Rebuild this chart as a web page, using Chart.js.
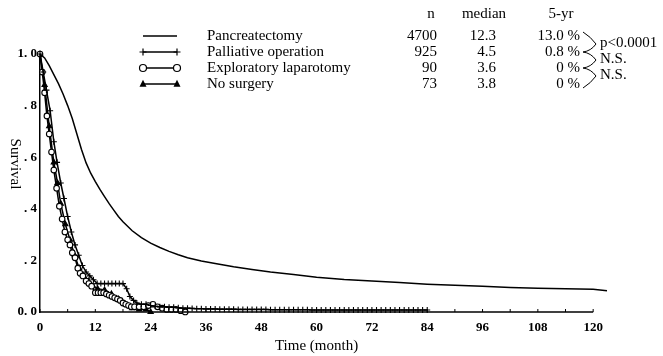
<!DOCTYPE html>
<html>
<head>
<meta charset="utf-8">
<script src="https://cdn.jsdelivr.net/npm/chart.js@4.4.1/dist/chart.umd.min.js"></script>
<style>
html, body { margin: 0; padding: 0; background: #fff; }
</style>
</head>
<body>
<canvas id="survivalChart" width="663" height="356"></canvas>
<script>
// survival curves (time in months, survival fraction)
const pancT = [0,1,2,3,4,5,6,7,8,9,10,11,12,13,14,15,16,17,18,20,22,24,26,28,30,32,35,38,42,46,50,55,60,66,72,78,84,90,96,102,108,114,120,123];
const pancS = [1.0,0.985,0.955,0.92,0.885,0.845,0.8,0.75,0.69,0.63,0.578,0.538,0.505,0.475,0.447,0.42,0.395,0.37,0.35,0.315,0.288,0.267,0.25,0.235,0.222,0.21,0.198,0.188,0.175,0.165,0.155,0.145,0.135,0.126,0.12,0.114,0.108,0.104,0.1,0.095,0.092,0.09,0.088,0.082];

const palT = [0,0.7,1.4,2.2,3,3.7,4.5,5.2,6,6.8,7.6,8.4,9.2,10,10.8,11.6,12.4,13.2,14,14.8,15.6,16.4,17.2,18,18.8,19.5,20.3,21,22,23,24,
  25,26,27,28,29,30,31,32,33,34,35,36,37,38,39,40,41,42,43,44,45,46,47,48,49,50,51,52,53,54,
  55,56,57,58,59,60,61,62,63,64,65,66,67,68,69,70,71,72,73,74,75,76,77,78,79,80,81,82,83,84];
const palS = [1.0,0.93,0.86,0.78,0.66,0.58,0.50,0.44,0.37,0.31,0.26,0.22,0.18,0.155,0.14,0.125,0.11,0.11,0.11,0.11,0.11,0.11,0.11,0.11,0.09,0.06,0.045,0.035,0.03,0.03,0.025,
  0.022,0.02,0.02,0.018,0.018,0.016,0.015,0.015,0.014,0.013,0.013,0.012,0.012,0.012,0.011,0.011,0.011,0.011,0.01,0.01,0.01,0.01,0.01,0.01,0.01,0.009,0.009,0.009,0.009,0.009,
  0.009,0.009,0.009,0.009,0.008,0.008,0.008,0.008,0.008,0.008,0.008,0.008,0.008,0.008,0.008,0.008,0.008,0.008,0.008,0.008,0.008,0.008,0.008,0.008,0.008,0.008,0.008,0.008,0.008,0.008];

const expT = [0,0.5,1,1.5,2,2.5,3,3.6,4.2,4.8,5.4,6,6.5,7,7.6,8.2,8.7,9.3,10,10.6,11.2,12,12.6,13.2,13.8,14.4,15,15.6,16.2,16.8,17.4,18,18.6,19.2,19.8,20.5,21.5,22.5,23.5,24.5,25.5,26.5,27.5,28.5,29.5,30.5,31.5];
const expS = [1.0,0.93,0.85,0.76,0.69,0.62,0.55,0.48,0.41,0.36,0.31,0.28,0.26,0.23,0.21,0.17,0.15,0.14,0.12,0.11,0.10,0.075,0.075,0.075,0.075,0.07,0.065,0.06,0.055,0.05,0.045,0.035,0.03,0.025,0.02,0.02,0.02,0.02,0.025,0.03,0.02,0.015,0.01,0.01,0.01,0.005,0.0];

const nsT = [0,1,2,3,3.8,4.5,5.5,6.5,7.5,8.5,9.5,10.5,11.5,12.5,14,15.5,17,18.5,20,21.5,23,24];
const nsS = [1.0,0.88,0.72,0.58,0.5,0.42,0.34,0.28,0.22,0.17,0.14,0.12,0.10,0.09,0.085,0.07,0.05,0.03,0.015,0.01,0.01,0.0];

// table next to the legend
const groupNames = ['Pancreatectomy', 'Palliative operation', 'Exploratory laparotomy', 'No surgery'];
const groupN = ['4700', '925', '90', '73'];
const groupMedian = ['12.3', '4.5', '3.6', '3.8'];
const group5yr = ['13.0 %', '0.8 %', '0 %', '0 %'];
const groupMarker = ['none', 'cross', 'circle', 'triangle'];
const pLabels = ['p<0.0001', 'N.S.', 'N.S.'];

const xTicks = [0, 12, 24, 36, 48, 60, 72, 84, 96, 108, 120];
const yTickLabels = ['0. 0', '. 2', '. 4', '. 6', '. 8', '1. 0'];

const serif = '"Liberation Serif", "Times New Roman", serif';

function toPoints(t, s) {
  return t.map((x, i) => ({ x: x, y: s[i] }));
}

function drawMark(ctx, style, x, y, r) {
  ctx.save();
  ctx.strokeStyle = '#000';
  ctx.lineWidth = 1.2;
  ctx.beginPath();
  if (style === 'circle') {
    ctx.arc(x, y, r, 0, Math.PI * 2);
    ctx.fillStyle = '#fff';
    ctx.fill();
    ctx.stroke();
  } else if (style === 'triangle') {
    ctx.moveTo(x, y - r * 1.2);
    ctx.lineTo(x + r, y + r * 0.8);
    ctx.lineTo(x - r, y + r * 0.8);
    ctx.closePath();
    ctx.fillStyle = '#000';
    ctx.fill();
  } else if (style === 'cross') {
    ctx.moveTo(x, y - r);
    ctx.lineTo(x, y + r);
    ctx.moveTo(x - r, y);
    ctx.lineTo(x + r, y);
    ctx.stroke();
  }
  ctx.restore();
}

// legend, table, braces, axis titles and the time axis line (which stops at 120)
const annotations = {
  id: 'annotations',
  afterDraw(chart) {
    const ctx = chart.ctx;
    const rowY = [36, 52, 68, 84];
    ctx.save();
    ctx.fillStyle = '#000';
    ctx.strokeStyle = '#000';
    ctx.font = '15px ' + serif;
    ctx.textBaseline = 'middle';

    // header
    ctx.textAlign = 'center';
    ctx.fillText('n', 431, 14);
    ctx.fillText('median', 484, 14);
    ctx.fillText('5-yr', 561, 14);

    for (let i = 0; i < groupNames.length; i++) {
      const y = rowY[i];
      ctx.lineWidth = 1.3;
      ctx.beginPath();
      ctx.moveTo(143, y);
      ctx.lineTo(177, y);
      ctx.stroke();
      if (groupMarker[i] !== 'none') {
        drawMark(ctx, groupMarker[i], 143, y, 3.5);
        drawMark(ctx, groupMarker[i], 177, y, 3.5);
      }
      ctx.textAlign = 'left';
      ctx.fillText(groupNames[i], 207, y);
      ctx.textAlign = 'right';
      ctx.fillText(groupN[i], 437, y);
      ctx.fillText(groupMedian[i], 496, y);
      ctx.fillText(group5yr[i], 580, y);
    }

    // zig-zag braces between neighbouring rows
    ctx.lineWidth = 1;
    ctx.beginPath();
    ctx.moveTo(583, rowY[0] - 4);
    for (let i = 0; i < pLabels.length; i++) {
      const mid = (rowY[i] + rowY[i + 1]) / 2;
      ctx.quadraticCurveTo(591, rowY[i] + 1, 596, mid);
      ctx.quadraticCurveTo(591, rowY[i + 1] - 1, 583, rowY[i + 1] + (i === pLabels.length - 1 ? 4 : 0));
    }
    ctx.stroke();
    ctx.textAlign = 'left';
    for (let i = 0; i < pLabels.length; i++) {
      const mid = (rowY[i] + rowY[i + 1]) / 2;
      ctx.fillText(pLabels[i], 600, mid - 1);
    }

    // y title, reading downwards
    ctx.save();
    ctx.translate(15, 164);
    ctx.rotate(Math.PI / 2);
    ctx.textAlign = 'center';
    ctx.fillText('Survival', 0, 0);
    ctx.restore();

    // time axis line from 0 to 120 with small inward ticks, and its title
    const xs = chart.scales.x;
    const yBase = chart.chartArea.bottom;
    const x0 = xs.getPixelForValue(0);
    const x120 = xs.getPixelForValue(120);
    ctx.lineWidth = 1.5;
    ctx.beginPath();
    ctx.moveTo(x0 - 1, yBase);
    ctx.lineTo(x120, yBase);
    ctx.stroke();
    ctx.lineWidth = 1;
    ctx.beginPath();
    for (let v = 0; v <= 120; v += 6) {
      const px = xs.getPixelForValue(v);
      ctx.moveTo(px, yBase);
      ctx.lineTo(px, yBase - 3);
    }
    ctx.stroke();
    ctx.textAlign = 'center';
    ctx.fillText('Time (month)', (x0 + x120) / 2, 346);
    ctx.restore();
  }
};

function curve(label, t, s, style, radius, extra) {
  return Object.assign({
    label: label,
    data: toPoints(t, s),
    showLine: true,
    borderColor: '#000',
    borderWidth: 1.5,
    backgroundColor: '#fff',
    pointStyle: style,
    pointRadius: radius,
    pointBorderWidth: 1.1,
    pointBorderColor: '#000',
    pointBackgroundColor: '#fff',
    tension: 0,
    clip: false
  }, extra || {});
}

const ctx = document.getElementById('survivalChart').getContext('2d');
const survivalChart = new Chart(ctx, {
  type: 'scatter',
  data: {
    datasets: [
      curve('Pancreatectomy', pancT, pancS, 'circle', 0),
      curve('Palliative operation', palT, palS, 'cross', 3),
      curve('Exploratory laparotomy', expT, expS, 'circle', 2.8),
      curve('No surgery', nsT, nsS, 'triangle', 3, { pointBackgroundColor: '#000' })
    ]
  },
  options: {
    responsive: false,
    animation: false,
    devicePixelRatio: 1,
    layout: { padding: { left: 0, right: 56, top: 54, bottom: 0 } },
    plugins: {
      legend: { display: false },
      tooltip: { enabled: false }
    },
    scales: {
      x: {
        type: 'linear',
        min: 0,
        max: 123,
        afterFit(scale) { scale.height = 44; },
        afterBuildTicks(scale) { scale.ticks = xTicks.map(v => ({ value: v })); },
        ticks: {
          color: '#000',
          padding: 8,
          maxRotation: 0,
          font: { family: serif, size: 13, weight: 'bold' }
        },
        grid: { drawOnChartArea: false, drawTicks: false },
        border: { display: false }
      },
      y: {
        min: 0,
        max: 1,
        afterFit(scale) { scale.width = 40; },
        ticks: {
          stepSize: 0.2,
          color: '#000',
          padding: 3,
          font: { family: serif, size: 13, weight: 'bold' },
          callback: v => yTickLabels[Math.round(v / 0.2)]
        },
        grid: { drawOnChartArea: false, drawTicks: false },
        border: { color: '#000', width: 1.5 }
      }
    }
  },
  plugins: [annotations]
});
</script>
</body>
</html>
